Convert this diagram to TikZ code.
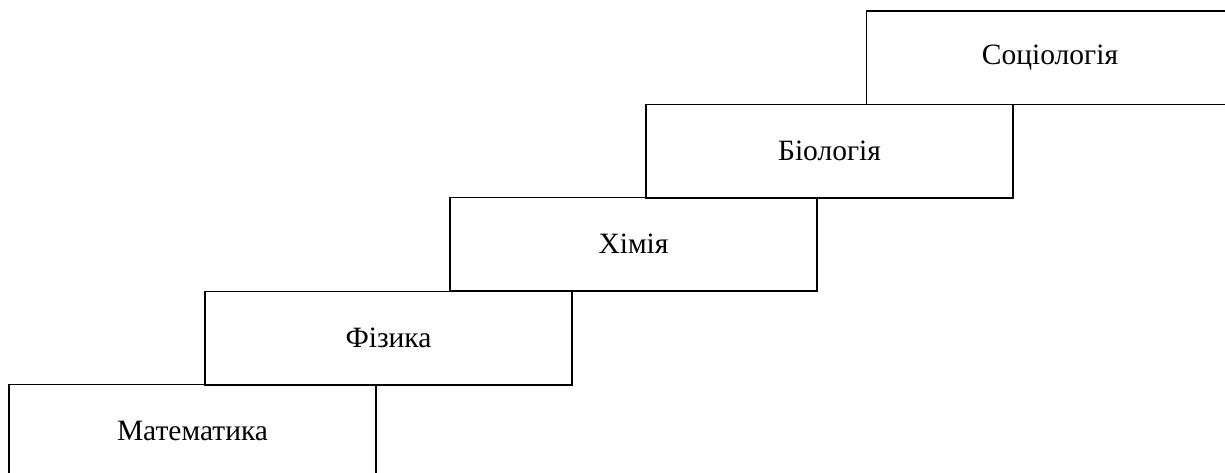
\documentclass[tikz,border=0pt]{standalone}
\usepackage{fontspec}
\setmainfont{Liberation Serif}
\begin{document}
\begin{tikzpicture}[x=1pt,y=-1pt,
  stepbox/.style={draw=black, line width=1.5pt, fill=white,
    minimum width=367pt, minimum height=93.5pt, inner sep=0pt,
    font=\fontsize{29.5}{35}\selectfont}]
  \useasboundingbox (0,0) rectangle (1225,472);
  \clip (0,0) rectangle (1225,472);
  % five boxes climbing left to right like stairs
  \node[stepbox] (math) at (192.5,431) {Математика};
  \node[stepbox] (phys) at (388.5,338) {Фізика};
  \node[stepbox] (chem) at (633.5,244) {Хімія};
  \node[stepbox] (bio)  at (829.5,151) {Біологія};
  \node[stepbox] (soc)  at (1050,57.5) {Соціологія};
\end{tikzpicture}
\end{document}
